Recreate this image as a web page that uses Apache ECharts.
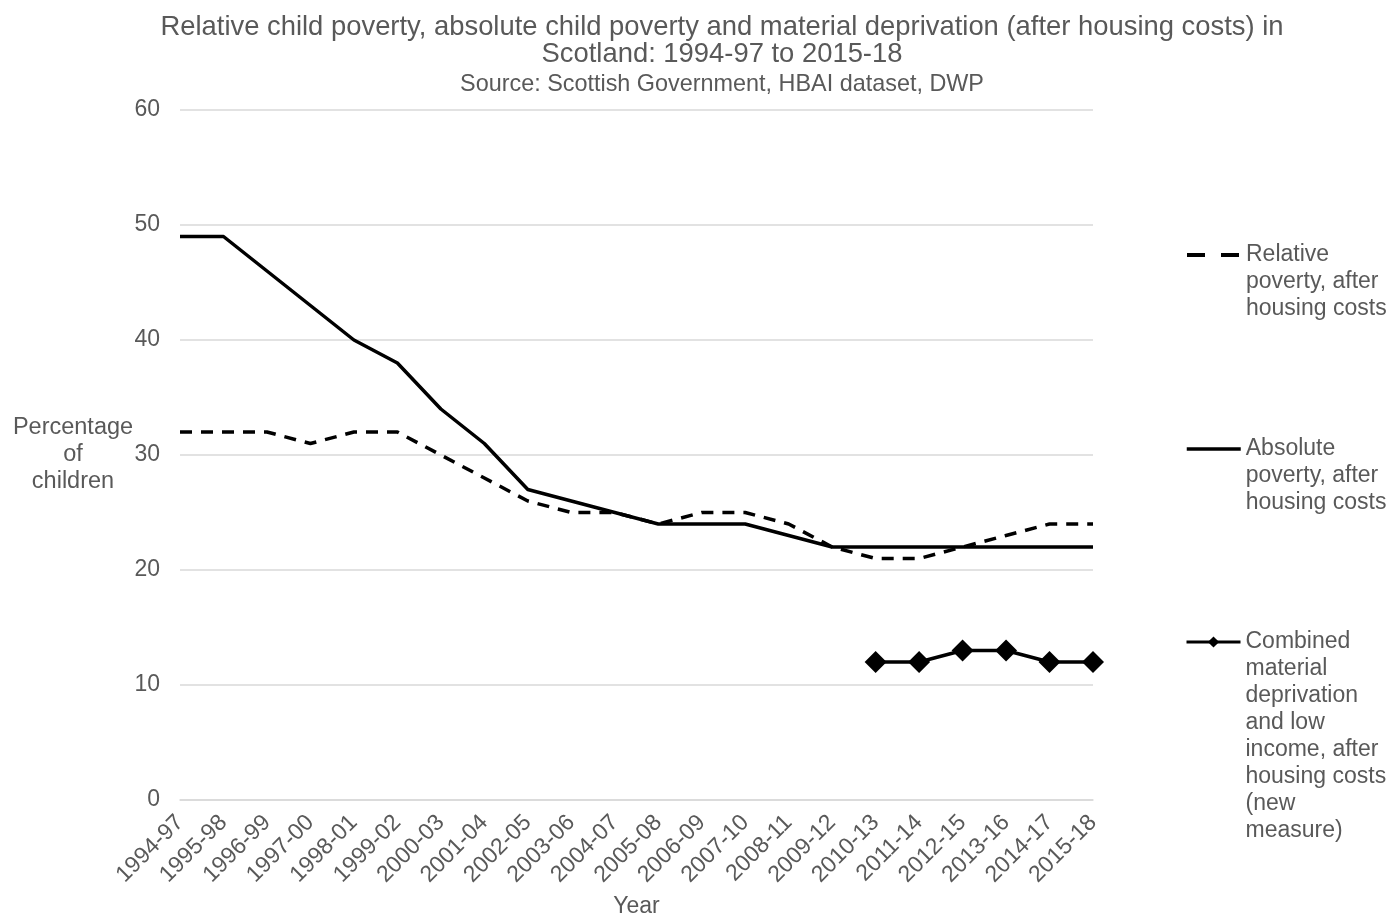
<!DOCTYPE html>
<html><head><meta charset="utf-8">
<script src="https://cdn.jsdelivr.net/npm/echarts@6/dist/echarts.min.js"></script>
<style>html,body{margin:0;padding:0;background:#fff}#c{width:1391px;height:915px}</style>
</head><body><div id="c"></div>
<script>
var years = ['1994-97','1995-98','1996-99','1997-00','1998-01','1999-02','2000-03','2001-04','2002-05','2003-06','2004-07','2005-08','2006-09','2007-10','2008-11','2009-12','2010-13','2011-14','2012-15','2013-16','2014-17','2015-18'];
var relativePoverty = [32,32,32,31,32,32,30,28,26,25,25,24,25,25,24,22,21,21,22,23,24,24];
var absolutePoverty = [49,49,46,43,40,38,34,31,27,26,25,24,24,24,23,22,22,22,22,22,22,22];
var combinedDeprivation = [null,null,null,null,null,null,null,null,null,null,null,null,null,null,null,null,12,12,13,13,12,12];
var yTicks = [0,10,20,30,40,50,60];
var seriesNames = ['Relative poverty, after housing costs','Absolute poverty, after housing costs','Combined material deprivation and low income, after housing costs (new measure)'];
var legendLines = [
  ['Relative','poverty, after','housing costs'],
  ['Absolute','poverty, after','housing costs'],
  ['Combined','material','deprivation','and low','income, after','housing costs','(new','measure)']
];

var LH = 27;
var txt = '#595959';
var font = 'Liberation Sans, Arial, sans-serif';

function mkLegend(i, firstLineY, extra){
  var n = legendLines[i].length;
  var blanks = new Array(n).join('\n');
  var text = blanks + legendLines[i].join('\n');
  var item = {name:seriesNames[i]};
  Object.assign(item, extra || {});
  return {
    data:[item],
    orient:'vertical', left:1185, top:firstLineY - (n-1)*LH - LH/2 + 1,
    itemWidth:54, itemHeight:14, padding:0, itemGap:0, selectedMode:false,
    formatter:function(){return text;},
    textStyle:{color:txt, fontFamily:font, fontSize:23, lineHeight:LH}
  };
}

var chart = echarts.init(document.getElementById('c'));
chart.setOption({
  animation:false,
  backgroundColor:'#fff',
  title:{
    text:'Relative child poverty, absolute child poverty and material deprivation (after housing costs) in\nScotland: 1994-97 to 2015-18',
    subtext:'Source: Scottish Government, HBAI dataset, DWP',
    left:722, top:14, textAlign:'center', itemGap:5, padding:0,
    textStyle:{color:txt, fontFamily:font, fontSize:27.4, fontWeight:'normal', lineHeight:27},
    subtextStyle:{color:txt, fontFamily:font, fontSize:23.4, lineHeight:24}
  },
  legend:[
    mkLegend(0, 254, {itemStyle:{opacity:0}, lineStyle:{type:[18,16], width:4}}),
    mkLegend(1, 448, {itemStyle:{opacity:0}, lineStyle:{width:3.5}}),
    mkLegend(2, 641, {lineStyle:{width:3}})
  ],
  grid:{left:180, right:298, top:110, bottom:115, containLabel:false, outerBoundsMode:'none'},
  xAxis:{
    type:'category', data:years, boundaryGap:false,
    name:'Year', nameLocation:'middle', nameGap:95, nameMoveOverlap:false,
    nameTextStyle:{color:txt, fontFamily:font, fontSize:23},
    axisLine:{show:true, lineStyle:{color:'#d9d9d9', width:1.5}},
    axisTick:{show:false},
    axisLabel:{rotate:45, color:txt, fontFamily:font, fontSize:23, margin:19, interval:0}
  },
  yAxis:{
    type:'value', min:0, max:60, interval:10,
    name:'Percentage\nof\nchildren', nameLocation:'middle', nameGap:107, nameRotate:0, nameMoveOverlap:false,
    nameTextStyle:{color:txt, fontFamily:font, fontSize:23.5, lineHeight:27, align:'center', padding:[4,0,0,0]},
    axisLine:{show:false}, axisTick:{show:false},
    axisLabel:{color:txt, fontFamily:font, fontSize:23, margin:20,
      formatter:function(v){return yTicks.indexOf(v)>=0 ? String(v) : '';}},
    splitLine:{lineStyle:{color:'#d9d9d9', width:1.5}}
  },
  series:[
    {name:seriesNames[0], type:'line', data:relativePoverty, symbol:'none',
     lineStyle:{color:'#000', width:3.5, type:[12,9]}, itemStyle:{color:'#000'}},
    {name:seriesNames[1], type:'line', data:absolutePoverty, symbol:'none',
     lineStyle:{color:'#000', width:3.5}, itemStyle:{color:'#000'}},
    {name:seriesNames[2], type:'line', data:combinedDeprivation, symbol:'diamond', symbolSize:22, showSymbol:true,
     lineStyle:{color:'#000', width:3.5}, itemStyle:{color:'#000'}}
  ]
});
</script>
</body></html>
